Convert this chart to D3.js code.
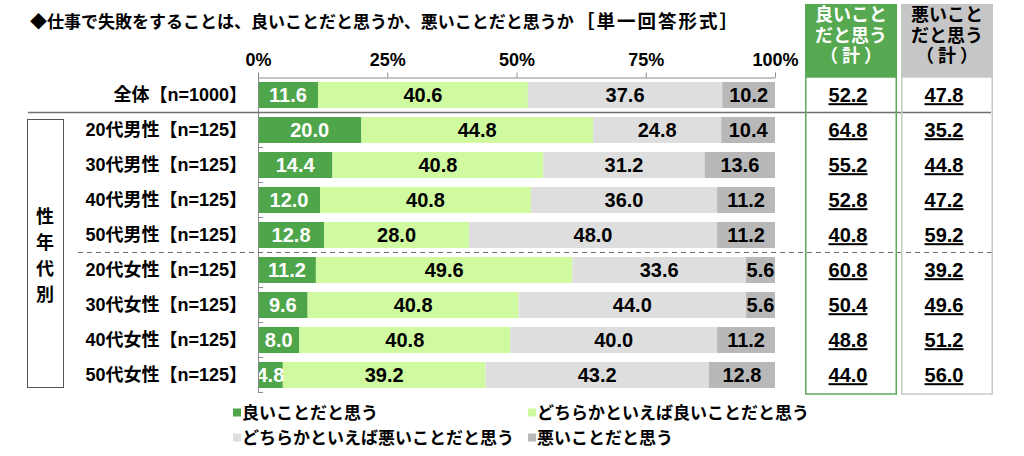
<!DOCTYPE html>
<html><head><meta charset="utf-8">
<script src="https://cdn.jsdelivr.net/npm/d3@7"></script>
<style>
html,body{margin:0;padding:0;background:#fff;}
svg text{font-family:"Liberation Sans","Noto Sans CJK JP",sans-serif;font-weight:700;}
svg text.jp{font-family:"Noto Sans CJK JP",sans-serif;}
</style></head>
<body>
<svg id="chart" width="1024" height="456"></svg>
<script>
const titleMain = "◆仕事で失敗をすることは、良いことだと思うか、悪いことだと思うか";
const titleSub = "［単一回答形式］";
const categories = ["全体【n=1000】","20代男性【n=125】","30代男性【n=125】","40代男性【n=125】","50代男性【n=125】","20代女性【n=125】","30代女性【n=125】","40代女性【n=125】","50代女性【n=125】"];
const seriesNames = ["良いことだと思う","どちらかといえば良いことだと思う","どちらかといえば悪いことだと思う","悪いことだと思う"];
const good       = [11.6, 20.0, 14.4, 12.0, 12.8, 11.2, 9.6, 8.0, 4.8];
const ratherGood = [40.6, 44.8, 40.8, 40.8, 28.0, 49.6, 40.8, 40.8, 39.2];
const ratherBad  = [37.6, 24.8, 31.2, 36.0, 48.0, 33.6, 44.0, 40.0, 43.2];
const bad        = [10.2, 10.4, 13.6, 11.2, 11.2, 5.6, 5.6, 11.2, 12.8];
const goodTotal  = [52.2, 64.8, 55.2, 52.8, 40.8, 60.8, 50.4, 48.8, 44.0];
const badTotal   = [47.8, 35.2, 44.8, 47.2, 59.2, 39.2, 49.6, 51.2, 56.0];
const tickValues = [0, 25, 50, 75, 100];
const goodHeader = ["良いこと","だと思う","（計）"];
const badHeader  = ["悪いこと","だと思う","（計）"];
const groupLabel = ["性","年","代","別"];

const colors = ["#4ea54a","#d0fa9f","#dedede","#b8b8b8"];
const labelColors = ["#fff","#000","#000","#000"];

const svg = d3.select("#chart");
const x = d3.scaleLinear().domain([0,100]).range([258,775]);
const y = d3.scaleBand().domain(categories).range([77.5,392.5]).paddingInner(9/35).paddingOuter(9/70);

// title
svg.append("text").attr("class","jp").attr("x",30).attr("y",28).attr("font-size",17).attr("fill","#000").text(titleMain);
svg.append("text").attr("class","jp").attr("x",576).attr("y",28).attr("font-size",18.5).attr("letter-spacing",2).attr("fill","#000").text(titleSub);

// rows data
const series = [good, ratherGood, ratherBad, bad];
const rows = categories.map((c,i)=>{
  let acc = 0;
  return series.map((s,k)=>{ const seg={cat:c,k,v:s[i],x0:acc,x1:acc+s[i]}; acc+=s[i]; return seg;});
});

// bars
const g = svg.append("g");
rows.forEach(r=>{
  g.selectAll(null).data(r).enter().append("rect")
    .attr("x",d=>x(d.x0)).attr("y",d=>y(d.cat))
    .attr("width",d=>x(d.x1)-x(d.x0)).attr("height",y.bandwidth())
    .attr("fill",d=>colors[d.k]);
  g.selectAll(null).data(r).enter().append("text")
    .attr("x",d=>(x(d.x0)+x(d.x1))/2).attr("y",d=>y(d.cat)+y.bandwidth()/2)
    .attr("dy","0.36em").attr("text-anchor","middle").attr("font-size",20)
    .attr("fill",d=>labelColors[d.k]).text(d=>d.v.toFixed(1));
});

// top axis
const ax = svg.append("g").attr("transform","translate(0,77.5)")
  .call(d3.axisTop(x).tickValues(tickValues).tickFormat(d=>d+"%").tickSize(5).tickSizeOuter(0));
ax.select(".domain").attr("stroke","#8a8a8a");
ax.selectAll(".tick line").attr("stroke","#8a8a8a");
ax.selectAll(".tick text").attr("font-size",18).attr("fill","#000").attr("y",-12).attr("font-family",null);

// vertical axis with category ticks
const boundaries = categories.map(c=>y(c)-y.step()*y.paddingInner()/2 + y.step());
svg.append("line").attr("x1",x(0)+0.5).attr("x2",x(0)+0.5).attr("y1",73).attr("y2",392.5).attr("stroke","#8a8a8a");
svg.selectAll(null).data(boundaries).enter().append("line")
  .attr("x1",x(0)).attr("x2",x(0)+5).attr("y1",d=>d).attr("y2",d=>d).attr("stroke","#8a8a8a");

// row labels
svg.selectAll(null).data(categories).enter().append("text")
  .attr("x",247).attr("y",d=>y(d)+y.bandwidth()/2).attr("dy","0.36em")
  .attr("text-anchor","end").attr("font-size",18).attr("fill","#000").text(d=>d);

// separators
const sepY = boundaries[0];
svg.append("line").attr("x1",28).attr("x2",991).attr("y1",sepY).attr("y2",sepY).attr("stroke","#707070").attr("stroke-width",1.3);
const dashY = boundaries[4];
svg.append("line").attr("x1",78).attr("x2",993).attr("y1",dashY).attr("y2",dashY).attr("stroke","#707070").attr("stroke-width",1.2).attr("stroke-dasharray","5,4");

// group box (vertical label)
svg.append("rect").attr("x",27.5).attr("y",119.5).attr("width",36).attr("height",268).attr("fill","none").attr("stroke","#555").attr("stroke-width",1);
const gl = svg.append("text").attr("text-anchor","middle").attr("font-size",18).attr("fill","#000");
gl.selectAll("tspan").data(groupLabel).enter().append("tspan")
  .attr("x",45).attr("y",(d,i)=>217+i*26).attr("dy","0.36em").text(d=>d);

// right columns
const cols = [
  {x0:805,x1:897,fill:"#56a950",stroke:"#5ea85a",tc:"#fff",head:goodHeader,vals:goodTotal},
  {x0:901,x1:993,fill:"#c6c6c6",stroke:"#c8c8c8",tc:"#000",head:badHeader,vals:badTotal}
];
cols.forEach(c=>{
  svg.append("rect").attr("x",c.x0).attr("y",4).attr("width",c.x1-c.x0).attr("height",73).attr("fill",c.fill);
  svg.append("rect").attr("x",c.x0+0.75).attr("y",77).attr("width",c.x1-c.x0-1.5).attr("height",317).attr("fill","none").attr("stroke",c.stroke).attr("stroke-width",1.5);
  const ht = svg.append("text").attr("text-anchor","middle").attr("font-size",18).attr("fill",c.tc);
  ht.selectAll("tspan").data(c.head).enter().append("tspan")
    .attr("x",(d,i)=>(c.x0+c.x1)/2 + (i===2?2:0)).attr("y",(d,i)=>15+i*20.5).attr("dy","0.36em")
    .attr("letter-spacing",(d,i)=>i===2?4:0).text(d=>d);
  svg.selectAll(null).data(c.vals).enter().append("text")
    .attr("x",(c.x0+c.x1)/2-3).attr("y",(d,i)=>y(categories[i])+y.bandwidth()/2).attr("dy","0.36em")
    .attr("text-anchor","middle").attr("font-size",20).attr("fill","#000")
    .attr("text-decoration","underline").text(d=>d.toFixed(1));
});

// legend
const legendPos = [[233,412.5],[528,412.5],[233,437.5],[528,437.5]];
const lg = svg.selectAll(null).data(seriesNames).enter().append("g")
  .attr("transform",(d,i)=>`translate(${legendPos[i][0]},${legendPos[i][1]})`);
lg.append("rect").attr("x",0).attr("y",-4).attr("width",8).attr("height",8).attr("fill",(d,i)=>colors[i]);
lg.append("text").attr("x",9).attr("y",0).attr("dy","0.36em").attr("font-size",17).attr("fill","#000").text(d=>d);
</script>
</body></html>
